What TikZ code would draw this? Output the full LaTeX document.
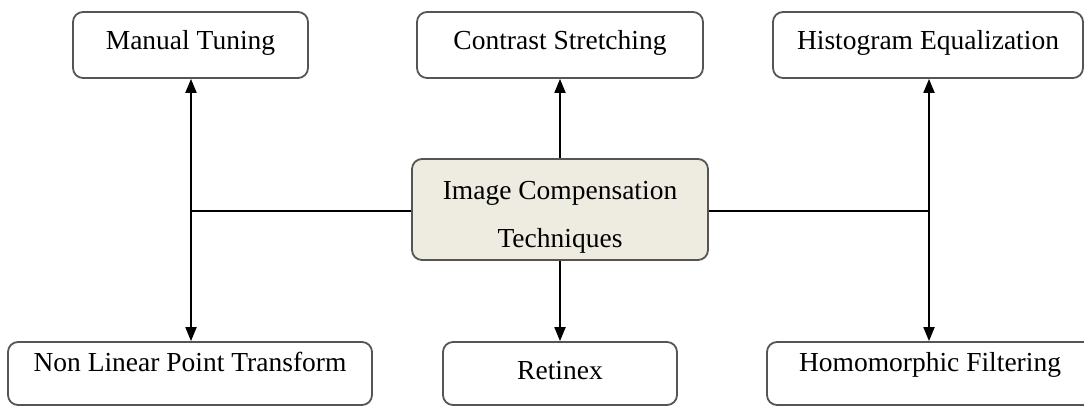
\documentclass[tikz,border=0pt]{standalone}
\usepackage{fontspec}
\setmainfont{Liberation Serif}
\usetikzlibrary{arrows.meta}
\definecolor{boxborder}{HTML}{555555}
\definecolor{centerfill}{HTML}{EEECE1}
\tikzset{
  box/.style={draw=boxborder, line width=1.8pt, rounded corners=10pt, fill=white,
    font=\fontsize{27.5}{33}\selectfont, inner sep=0pt},
  topbox/.style={box, minimum height=66pt, text height=21pt, text depth=11pt},
  botbox/.style={box, minimum height=63pt, text height=16pt, text depth=20pt},
  conn/.style={line width=1.9pt, black},
  tip/.style={-{Triangle[length=14pt,width=11pt]}},
  bitip/.style={{Triangle[length=14pt,width=11pt]}-{Triangle[length=14pt,width=11pt]}}
}
\begin{document}
\begin{tikzpicture}[x=1pt,y=-1pt]
\useasboundingbox (0,0) rectangle (1084,406);
\clip (0,0) rectangle (1084,406);
% top row
\node[topbox, minimum width=235pt] (mt) at (190.5,45) {Manual Tuning};
\node[topbox, minimum width=286pt] (cs) at (560,45) {Contrast Stretching};
\node[topbox, minimum width=310pt] (he) at (928,45) {Histogram Equalization};
% center
\node[box, fill=centerfill, minimum width=296pt, minimum height=101pt, align=center,
  font=\fontsize{27.5}{48}\selectfont] (ct) at (560,209.5) {\rule{0pt}{34pt}Image Compensation\\Techniques};
% bottom row
\node[botbox, minimum width=364pt] (nl) at (190,373.5) {Non Linear Point Transform};
\node[botbox, minimum width=234pt, text height=21pt, text depth=10pt] (rt) at (560,373.5) {Retinex};
\node[botbox, minimum width=326pt] (hf) at (930,373.5) {Homomorphic Filtering};
% junctions
\coordinate (jl) at (191,211);
\coordinate (jr) at (929,211);
% connectors
\draw[conn] (ct.west |- jl) -- (jl);
\draw[conn] (ct.east |- jr) -- (jr);
\draw[conn, bitip] (jl |- mt.south) -- (jl |- nl.north);
\draw[conn, bitip] (jr |- he.south) -- (jr |- hf.north);
\draw[conn, tip] (ct.north) -- (cs.south);
\draw[conn, tip] (ct.south) -- (rt.north);
\end{tikzpicture}
\end{document}
